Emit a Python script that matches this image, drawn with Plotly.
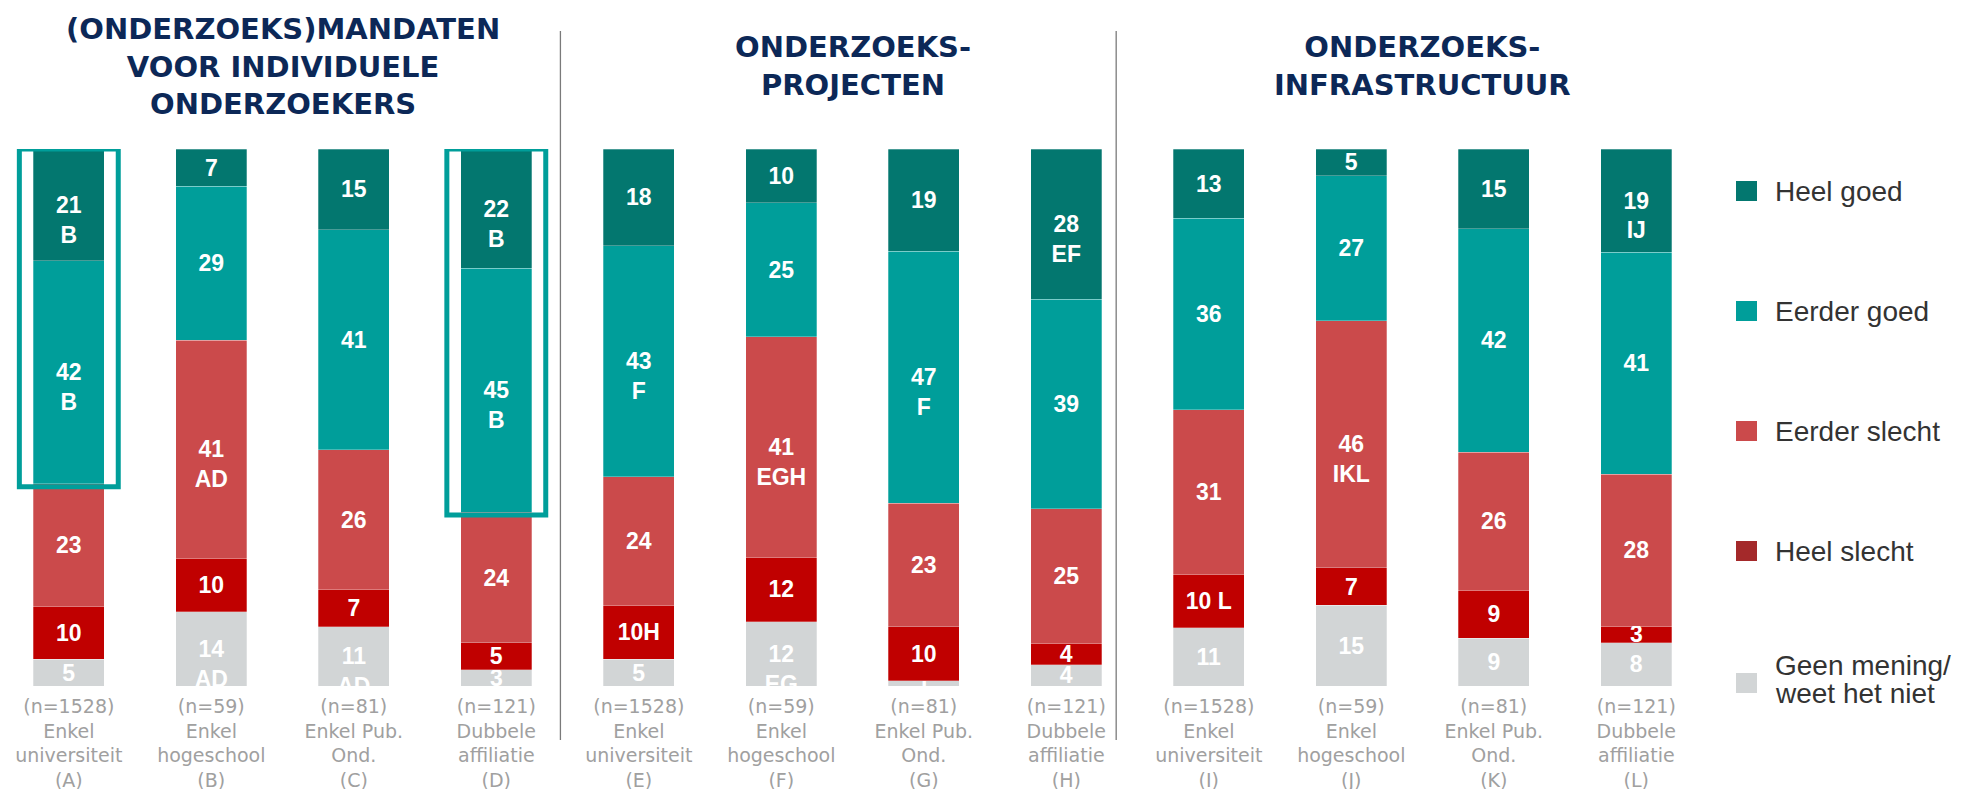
import plotly.graph_objects as go

# ---------------- data ----------------
categories = [
    "(n=1528)<br>Enkel<br>universiteit<br>(A)",
    "(n=59)<br>Enkel<br>hogeschool<br>(B)",
    "(n=81)<br>Enkel Pub.<br>Ond.<br>(C)",
    "(n=121)<br>Dubbele<br>affiliatie<br>(D)",
    "(n=1528)<br>Enkel<br>universiteit<br>(E)",
    "(n=59)<br>Enkel<br>hogeschool<br>(F)",
    "(n=81)<br>Enkel Pub.<br>Ond.<br>(G)",
    "(n=121)<br>Dubbele<br>affiliatie<br>(H)",
    "(n=1528)<br>Enkel<br>universiteit<br>(I)",
    "(n=59)<br>Enkel<br>hogeschool<br>(J)",
    "(n=81)<br>Enkel Pub.<br>Ond.<br>(K)",
    "(n=121)<br>Dubbele<br>affiliatie<br>(L)",
]

group_titles = [
    "(ONDERZOEKS)MANDATEN<br>VOOR INDIVIDUELE<br>ONDERZOEKERS",
    "ONDERZOEKS-<br>PROJECTEN",
    "ONDERZOEKS-<br>INFRASTRUCTUUR",
]

series_names = ["Heel goed", "Eerder goed", "Eerder slecht", "Heel slecht",
                "Geen mening/<br>weet het niet"]

heel_goed     = [21, 7, 15, 22, 18, 10, 19, 28, 13, 5, 15, 19]
eerder_goed   = [42, 29, 41, 45, 43, 25, 47, 39, 36, 27, 42, 41]
eerder_slecht = [23, 41, 26, 24, 24, 41, 23, 25, 31, 46, 26, 28]
heel_slecht   = [10, 10, 7, 5, 10, 12, 10, 4, 10, 7, 9, 3]
geen_mening   = [5, 14, 11, 3, 5, 12, 1, 4, 11, 15, 9, 8]

# significance letters ("\n" = on a line below the value)
sig_heel_goed     = ["\nB", "", "", "\nB", "", "", "", "\nEF", "", "", "", "\nIJ"]
sig_eerder_goed   = ["\nB", "", "", "\nB", "\nF", "", "\nF", "", "", "", "", ""]
sig_eerder_slecht = ["", "\nAD", "", "", "", "\nEGH", "", "", "", "\nIKL", "", ""]
sig_heel_slecht   = ["", "", "", "", "H", "", "", "", " L", "", "", ""]
sig_geen_mening   = ["", "\nAD", "\nAD", "", "", "\nEG", "", "", "", "", "", ""]

highlighted = [0, 3]   # bars outlined (A and D)

# ---------------- style ----------------
bar_colors = ["#03776F", "#009E9A", "#CB4A4B", "#C00000", "#D2D5D6"]
legend_colors = ["#03776F", "#009E9A", "#CB4A4B", "#A4292A", "#D2D5D6"]
title_color = "#0C2857"
tick_color = "#A0A0A0"

OFF = 8                     # page body margin
W_FIG, H_FIG = 1966, 789
L, R = 0, 246
T = 149 - OFF               # bar top (screen 149)
B = H_FIG - (686 - OFF)     # bar bottom (screen 686)
PW = W_FIG - L - R
PH = H_FIG - T - B
x0_px, step_px = 68.8 - OFF, 142.5
xr0 = -(x0_px - L) / step_px
xr1 = xr0 + PW / step_px


def px_to_paper_x(px):          # px in screen coordinates
    return (px - OFF - L) / PW


def px_to_paper_y(py):          # py in screen coordinates
    return (H_FIG - B - (py - OFF)) / PH


def make_text(vals, sigs):
    out = []
    for v, s in zip(vals, sigs):
        if s.startswith("\n"):
            out.append("<span style='color:rgba(0,0,0,0)'>0</span><br>%d<br>%s" % (v, s[1:]))
        else:
            out.append("%d%s" % (v, s))
    return out


xs = list(range(len(categories)))
stack = [
    (geen_mening, sig_geen_mening, 4),
    (heel_slecht, sig_heel_slecht, 3),
    (eerder_slecht, sig_eerder_slecht, 2),
    (eerder_goed, sig_eerder_goed, 1),
    (heel_goed, sig_heel_goed, 0),
]

fig = go.Figure()
for vals, sigs, k in stack:
    fig.add_trace(go.Bar(
        x=xs, y=vals, name=series_names[k],
        width=0.5,
        marker=dict(color=bar_colors[k], line=dict(width=0.8, color="rgba(255,255,255,0.35)")),
        text=make_text(vals, sigs),
        textposition="inside",
        insidetextanchor="middle",
        textangle=0,
        constraintext="none",
        textfont=dict(family="Liberation Sans, Arial, sans-serif", size=23,
                      color="white", weight="bold"),
        hoverinfo="skip",
        showlegend=False,
    ))

shapes = []
annotations = []

# highlight boxes around the positive part of bars A and D
for i in highlighted:
    tot = heel_goed[i] + eerder_goed[i] + eerder_slecht[i] + heel_slecht[i] + geen_mening[i]
    low = (eerder_slecht[i] + heel_slecht[i] + geen_mening[i]) / tot * 100
    shapes.append(dict(type="rect", xref="x", yref="y",
                       x0=i - 0.347, x1=i + 0.347, y0=low - 0.5, y1=100,
                       line=dict(color="#009E9A", width=5), fillcolor="rgba(0,0,0,0)",
                       layer="above"))

# vertical separators
for sx in [3.45, 7.35]:
    shapes.append(dict(type="line", xref="x", yref="paper", x0=sx, x1=sx,
                       y0=px_to_paper_y(740), y1=px_to_paper_y(31),
                       line=dict(color="#7a7a7a", width=1.3)))

# group titles
for gx, t in zip([1.5, 5.5, 9.5], group_titles):
    annotations.append(dict(x=gx, xref="x", y=px_to_paper_y(66.5), yref="paper",
                            text=t, showarrow=False, xanchor="center", yanchor="middle",
                            align="center",
                            font=dict(family="DejaVu Sans, sans-serif", size=29,
                                      color=title_color, weight="bold")))

# custom legend
leg_y = [191, 311, 431, 551, 683]
SQ_X0, SQ_X1, TX_X = 1736, 1757, 1773
for k, (name, col, yc) in enumerate(zip(series_names, legend_colors, leg_y)):
    shapes.append(dict(type="rect", xref="paper", yref="paper",
                       x0=px_to_paper_x(SQ_X0), x1=px_to_paper_x(SQ_X1),
                       y0=px_to_paper_y(yc + 10), y1=px_to_paper_y(yc - 10),
                       fillcolor=col, line=dict(width=0)))
    lines = name.split("<br>")
    for j, ln in enumerate(lines):
        ly = yc if len(lines) == 1 else 665 + 28 * j
        annotations.append(dict(x=px_to_paper_x(TX_X), xref="paper",
                                y=px_to_paper_y(ly), yref="paper", text=ln,
                                showarrow=False, xanchor="left", yanchor="middle",
                                font=dict(family="Liberation Sans, Arial, sans-serif",
                                          size=28, color="#333333")))

fig.update_layout(
    width=W_FIG, height=H_FIG,
    margin=dict(l=L, r=R, t=T, b=B),
    barmode="stack", barnorm="percent",
    plot_bgcolor="white", paper_bgcolor="white",
    showlegend=False,
    shapes=shapes, annotations=annotations,
    xaxis=dict(range=[xr0, xr1], tickvals=xs, ticktext=categories,
               showgrid=False, zeroline=False, showline=False,
               ticks="outside", ticklen=3, tickcolor="rgba(0,0,0,0)",
               tickfont=dict(family="DejaVu Sans, sans-serif", size=19, color=tick_color)),
    yaxis=dict(range=[0, 100], visible=False, showgrid=False, zeroline=False),
)

fig.write_html("out.html")
